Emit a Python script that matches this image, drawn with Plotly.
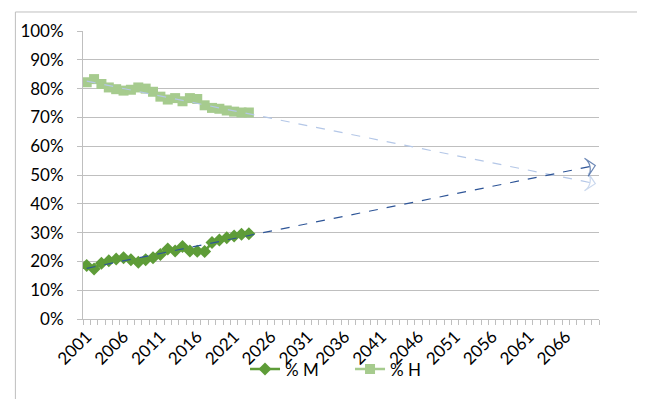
import plotly.graph_objects as go

# share of M and H per year (percent)
years = list(range(2001, 2024))
pct_m = [18.6, 17.4, 19.4, 20.2, 20.8, 21.3, 20.6, 19.7, 20.6, 21.3, 22.4, 24.3,
         23.6, 25.2, 23.6, 23.5, 23.4, 26.6, 27.4, 28.2, 28.8, 29.4, 29.6]
pct_h = [82.2, 83.3, 81.6, 80.4, 79.8, 79.3, 79.6, 80.4, 80.0, 78.9, 77.2, 76.2,
         76.7, 75.6, 76.7, 76.4, 74.2, 73.3, 73.0, 72.4, 72.0, 71.7, 71.7]

# linear trend lines (start / end values)
trend_years = [2001, 2070]
trend_m = [17.6, 53.3]
trend_h = [82.6, 47.0]

tick_years = list(range(2001, 2070, 5))

FONT = "Lato, 'Open Sans', sans-serif"
green_m = "#5E9C38"
green_h = "#A6CB8E"

fig = go.Figure()

fig.add_trace(go.Scatter(
    x=years, y=[v / 100 for v in pct_m], name="% M", mode="lines+markers",
    line=dict(color=green_m, width=2.5),
    marker=dict(symbol="diamond", size=10, color=green_m)))
fig.add_trace(go.Scatter(
    x=years, y=[v / 100 for v in pct_h], name="% H", mode="lines+markers",
    line=dict(color=green_h, width=2.5),
    marker=dict(symbol="square", size=10, color=green_h)))

# trend lines with open arrow heads
for vals, col in [(trend_h, "#B4C7E7"), (trend_m, "#2E5597")]:
    fig.add_trace(go.Scatter(
        x=trend_years, y=[v / 100 for v in vals], mode="lines+markers",
        line=dict(color=col, width=1.2, dash="dash"),
        marker=dict(symbol=["circle", "arrow-wide-open"], size=[0, 13], angleref="previous",
                    color=col, line=dict(color=col, width=1.2)),
        showlegend=False, hoverinfo="skip"))

# page body adds 8px offset, so the figure is 8px smaller and margins shifted
fig.update_layout(
    width=637, height=391,
    margin=dict(l=72, r=46, t=20, b=77),
    paper_bgcolor="white", plot_bgcolor="white",
    font=dict(family=FONT, size=17, color="black"),
    legend=dict(orientation="h", x=0.314, xanchor="left", y=-0.175, yanchor="middle",
                entrywidth=60, bgcolor="rgba(0,0,0,0)", font=dict(size=17)),
    shapes=[dict(type="rect", xref="paper", yref="paper",
                 x0=-0.131, x1=1.3, y0=-0.5, y1=1.066,
                 line=dict(color="#BFBFBF", width=1), layer="below")],
)

fig.update_xaxes(
    range=[2000.5, 2070.5], tickvals=tick_years, ticktext=[str(y) for y in tick_years],
    tickangle=-45, ticks="", showgrid=False, zeroline=False,
    showline=True, linecolor="#BFBFBF", linewidth=1,
    minor=dict(tick0=2000.5, dtick=1, ticks="outside", ticklen=5, tickcolor="#BFBFBF", showgrid=False),
)
fig.update_yaxes(
    range=[0, 1], dtick=0.1, tickformat=".0%",
    showgrid=True, gridcolor="#BFBFBF", gridwidth=1, zeroline=False,
    showline=True, linecolor="#BFBFBF", linewidth=1,
    ticks="outside", ticklen=5, tickcolor="#BFBFBF", ticklabelstandoff=10,
)

fig.write_html("out.html")
